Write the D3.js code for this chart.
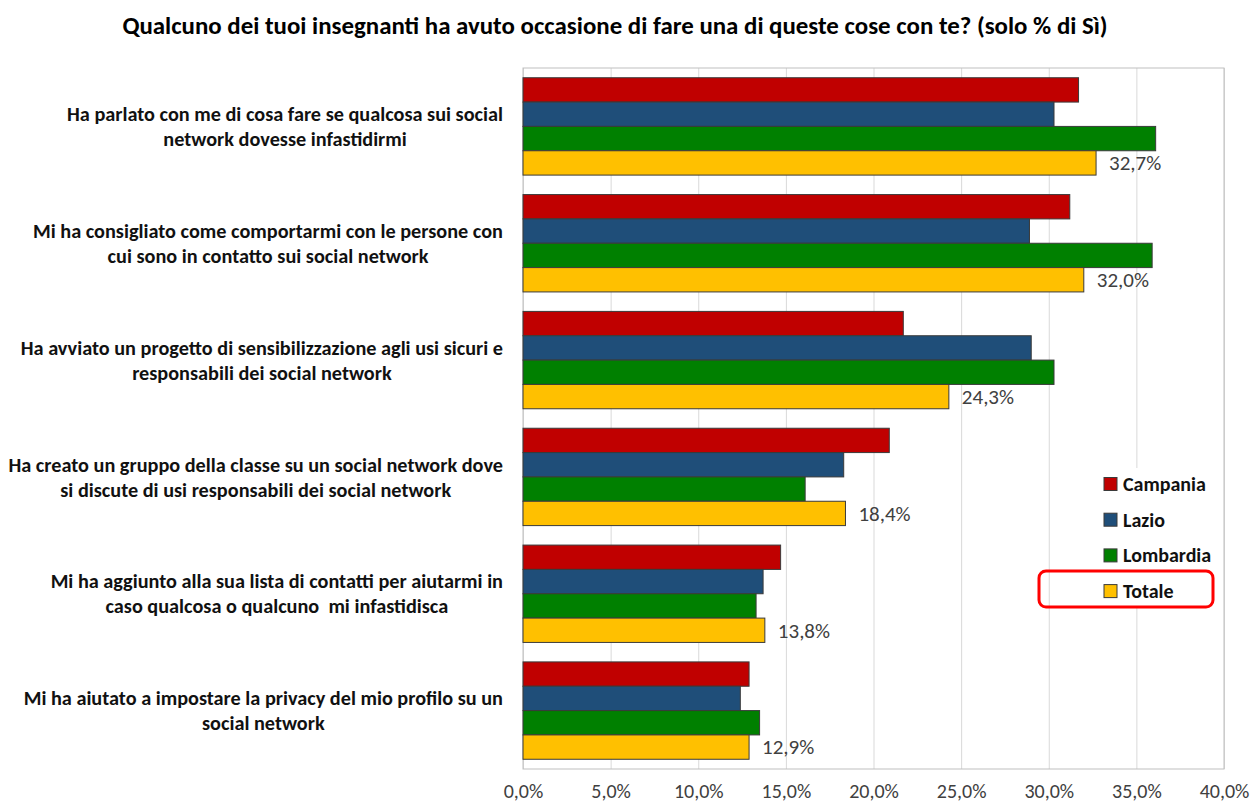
<!DOCTYPE html>
<html>
<head>
<meta charset="utf-8">
<script src="https://cdn.jsdelivr.net/npm/d3@7"></script>
<style>
  body { margin: 0; background: #fff; }
  svg { display: block; }
  text { font-family: Carlito, Calibri, Lato, sans-serif; white-space: pre; }
</style>
</head>
<body>
<svg id="chart" width="1251" height="804"></svg>
<script>
// Survey answers: share of "Sì" per region and overall
const chartTitle = "Qualcuno dei tuoi insegnanti ha avuto occasione di fare una di queste cose con te? (solo % di Sì)";

const categories = [
  "Ha parlato con me di cosa fare se qualcosa sui social\nnetwork dovesse infastidirmi",
  "Mi ha consigliato come comportarmi con le persone con\ncui sono in contatto sui social network",
  "Ha avviato un progetto di sensibilizzazione agli usi sicuri e\nresponsabili dei social network",
  "Ha creato un gruppo della classe su un social network dove\nsi discute di usi responsabili dei social network",
  "Mi ha aggiunto alla sua lista di contatti per aiutarmi in\ncaso qualcosa o qualcuno  mi infastidisca",
  "Mi ha aiutato a impostare la privacy del mio profilo su un\nsocial network"
];

const seriesNames = ["Campania", "Lazio", "Lombardia", "Totale"];
const campania  = [31.7, 31.2, 21.7, 20.9, 14.7, 12.9];
const lazio     = [30.3, 28.9, 29.0, 18.3, 13.7, 12.4];
const lombardia = [36.1, 35.9, 30.3, 16.1, 13.3, 13.5];
const totale    = [32.7, 32.0, 24.3, 18.4, 13.8, 12.9];
const seriesValues = [campania, lazio, lombardia, totale];
const seriesColors = ["#C00000", "#1F4E79", "#008000", "#FFC000"];

const xTicks = [0, 5, 10, 15, 20, 25, 30, 35, 40];

const itFormat = d3.formatLocale({ decimal: ",", thousands: ".", grouping: [3], currency: ["€", ""] });
const pct1 = v => itFormat.format(".1f")(v) + "%";

const svg = d3.select("#chart");

const plot = { left: 523, right: 1224, top: 68, bottom: 769 };

const x = d3.scaleLinear().domain([0, 40]).range([plot.left, plot.right]);
const y = d3.scaleBand().domain(d3.range(categories.length)).range([plot.top, plot.bottom]);
const ySeries = d3.scaleBand().domain(d3.range(seriesNames.length))
  .range([0, y.bandwidth()]).paddingInner(0).paddingOuter(0.4);

// Scale a text element's font so that it spans the given width
function fitWidth(sel, width) {
  const base = +sel.attr("font-size");
  const w = sel.node().getComputedTextLength();
  const size = base * width / w;
  sel.attr("font-size", size);
  return size;
}

// Title
const titleText = svg.append("text")
  .attr("x", 615).attr("y", 34)
  .attr("text-anchor", "middle")
  .attr("font-size", 20).attr("font-weight", "bold").attr("fill", "#000")
  .text(chartTitle);
fitWidth(titleText, 986);

// Gridlines and tick labels via the bottom axis
const xAxis = d3.axisBottom(x).tickValues(xTicks)
  .tickSize(-(plot.bottom - plot.top)).tickPadding(15)
  .tickFormat(d => pct1(d));
const gx = svg.append("g").attr("transform", `translate(0,${plot.bottom})`).call(xAxis);
gx.select(".domain").remove();
gx.selectAll(".tick line").attr("stroke", "#D9D9D9").attr("stroke-width", 1);
gx.selectAll(".tick text").attr("font-size", 20).attr("fill", "#404040")
  .attr("font-family", "Carlito, Calibri, Lato, sans-serif");

// Plot area frame
svg.append("rect")
  .attr("x", plot.left).attr("y", plot.top)
  .attr("width", plot.right - plot.left).attr("height", plot.bottom - plot.top)
  .attr("fill", "none").attr("stroke", "#BFBFBF").attr("stroke-width", 1);

// Bars
const groups = svg.append("g").selectAll("g")
  .data(categories.map((c, i) => i))
  .join("g")
  .attr("transform", i => `translate(0,${y(i)})`);

groups.selectAll("rect")
  .data(i => seriesValues.map((vals, s) => ({ s, v: vals[i] })))
  .join("rect")
  .attr("x", x(0))
  .attr("y", d => ySeries(d.s))
  .attr("width", d => x(d.v) - x(0))
  .attr("height", ySeries.bandwidth())
  .attr("fill", d => seriesColors[d.s])
  .attr("stroke", "#3a3a3a").attr("stroke-width", 1);

// Value labels for the total
groups.append("text")
  .attr("x", i => x(totale[i]) + 13)
  .attr("y", ySeries(3) + ySeries.bandwidth() / 2)
  .attr("dy", "0.35em")
  .attr("font-size", 21).attr("fill", "#404040")
  .text(i => pct1(totale[i]));

// Category labels: wrapped, centred block ending at the right edge
const labelRight = 503;
const probe = svg.append("text").attr("font-size", 17.5).attr("font-weight", "bold")
  .text(categories[0].split("\n")[0]);
const labelSize = fitWidth(probe, 436);
probe.remove();

const labels = svg.append("g");
categories.forEach((c, i) => {
  const lines = c.split("\n");
  const t = labels.append("text")
    .attr("font-size", labelSize).attr("font-weight", "bold").attr("fill", "#111")
    .attr("text-anchor", "middle");
  const cy = y(i) + y.bandwidth() / 2;
  const lh = 25;
  lines.forEach((ln, k) => {
    t.append("tspan").attr("x", 0)
      .attr("y", cy + (k - (lines.length - 1) / 2) * lh)
      .attr("dy", "0.35em")
      .text(ln);
  });
  let w = 0;
  t.selectAll("tspan").each(function () { w = Math.max(w, this.getComputedTextLength()); });
  t.selectAll("tspan").attr("x", labelRight - w / 2);
});

// Legend
const legend = svg.append("g");
legend.append("rect").attr("x", 1097).attr("y", 468).attr("width", 122).attr("height", 138)
  .attr("fill", "#fff");
seriesNames.forEach((name, s) => {
  const ly = 484 + s * 35.7;
  legend.append("rect").attr("x", 1104).attr("y", ly - 6.5).attr("width", 13).attr("height", 13)
    .attr("fill", seriesColors[s]).attr("stroke", "#3a3a3a").attr("stroke-width", 1);
  legend.append("text").attr("x", 1123).attr("y", ly).attr("dy", "0.35em")
    .attr("font-size", 20).attr("font-weight", "bold").attr("fill", "#111")
    .text(name);
});
// Highlight around the total entry
legend.append("rect").attr("x", 1039).attr("y", 571).attr("width", 174).attr("height", 36)
  .attr("rx", 7).attr("ry", 7)
  .attr("fill", "none").attr("stroke", "#FF0000").attr("stroke-width", 3);
</script>
</body>
</html>
